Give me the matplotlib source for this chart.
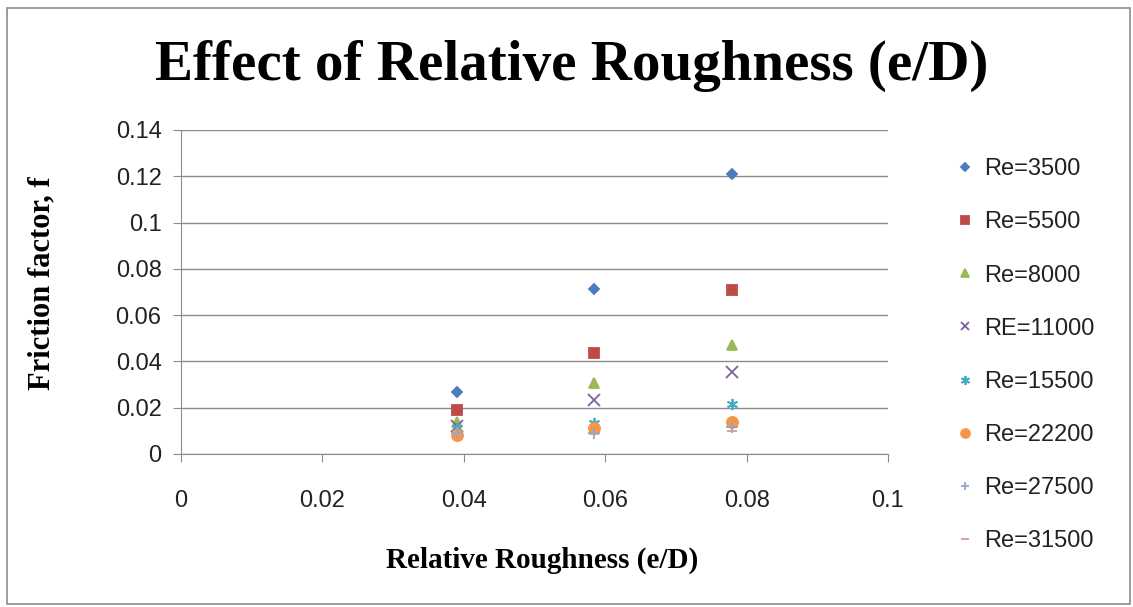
import matplotlib.pyplot as plt
from matplotlib.ticker import FuncFormatter
from matplotlib.patches import Rectangle

# relative roughness (e/D) and friction factor per Reynolds number
rel_rough = [0.039, 0.0584, 0.078]
labels = ['Re=3500', 'Re=5500', 'Re=8000', 'RE=11000',
          'Re=15500', 'Re=22200', 'Re=27500', 'Re=31500']
f_3500 = [0.0269, 0.0712, 0.1212]
f_5500 = [0.0190, 0.0436, 0.0707]
f_8000 = [0.0140, 0.0305, 0.0472]
f_11000 = [0.0120, 0.0233, 0.0356]
f_15500 = [0.0113, 0.0133, 0.0216]
f_22200 = [0.0080, 0.0111, 0.0140]
f_27500 = [0.0092, 0.0092, 0.0118]
f_31500 = [0.0086, 0.0085, 0.0098]
series = [f_3500, f_5500, f_8000, f_11000, f_15500, f_22200, f_27500, f_31500]

markers = ['D', 's', '^', 'x', (6, 2, 0), 'o', '+', '_']
sizes = [5, 7, 7, 8, 8, 8, 8, 7]
colors = ['#4A7EBB', '#BE4B48', '#98B954', '#7D60A0',
          '#46AAC5', '#F79646', '#8EA5CB', '#D99694']

fig = plt.figure(figsize=(11.33, 6.07), dpi=100)
fig.patches.append(Rectangle((0.006, 0.005), 0.991, 0.982, transform=fig.transFigure,
                             fill=False, edgecolor='#8c8c8c', lw=1.2))
ax = fig.add_axes([181/1133, 1-454/607, (888-181)/1133, (454-130)/607])

for i in range(len(series)):
    ax.plot(rel_rough, series[i], linestyle='none', marker=markers[i],
            markersize=sizes[i], color=colors[i], markeredgewidth=1.3,
            label=labels[i])

ax.set_xlim(0, 0.1)
ax.set_ylim(0, 0.14)
ax.set_xticks([0, 0.02, 0.04, 0.06, 0.08, 0.1])
ax.set_yticks([0, 0.02, 0.04, 0.06, 0.08, 0.1, 0.12, 0.14])
fmt = FuncFormatter(lambda v, p: '0' if v == 0 else ('%g' % round(v, 3)))
ax.xaxis.set_major_formatter(fmt)
ax.yaxis.set_major_formatter(fmt)
ax.yaxis.grid(True, color='#8c8c8c', lw=1)
ax.set_axisbelow(True)
for s in ['top', 'right']:
    ax.spines[s].set_visible(False)
ax.spines['left'].set_color('#8c8c8c')
ax.spines['bottom'].set_color('#8c8c8c')
ax.tick_params(axis='both', colors='#8c8c8c', labelcolor='#222222',
               labelsize=17, length=6)
ax.tick_params(axis='x', pad=20)
ax.tick_params(axis='y', pad=8)
for t in ax.get_xticklabels() + ax.get_yticklabels():
    t.set_fontfamily('Liberation Sans')

fig.text(0.505, 1-66/607, 'Effect of Relative Roughness (e/D)', ha='center', va='center',
         fontsize=41, fontweight='bold', family='Liberation Serif')
fig.text(542/1133, 1-560/607, 'Relative Roughness (e/D)', ha='center', va='center',
         fontsize=21, fontweight='bold', family='Liberation Serif')
fig.text(42/1133, 1-283/607, 'Friction factor, f', ha='center', va='center',
         rotation=90, fontsize=22, fontweight='bold', family='Liberation Serif')

leg = ax.legend(loc='upper left', bbox_to_anchor=(935/1133, 1-137/607),
                bbox_transform=fig.transFigure, frameon=False,
                prop={'family': 'Liberation Sans', 'size': 17},
                labelspacing=1.32, handlelength=0.7, handletextpad=0.5,
                markerscale=0.8)
for t in leg.get_texts():
    t.set_color('#222222')

fig.savefig('out.png', dpi=100)
